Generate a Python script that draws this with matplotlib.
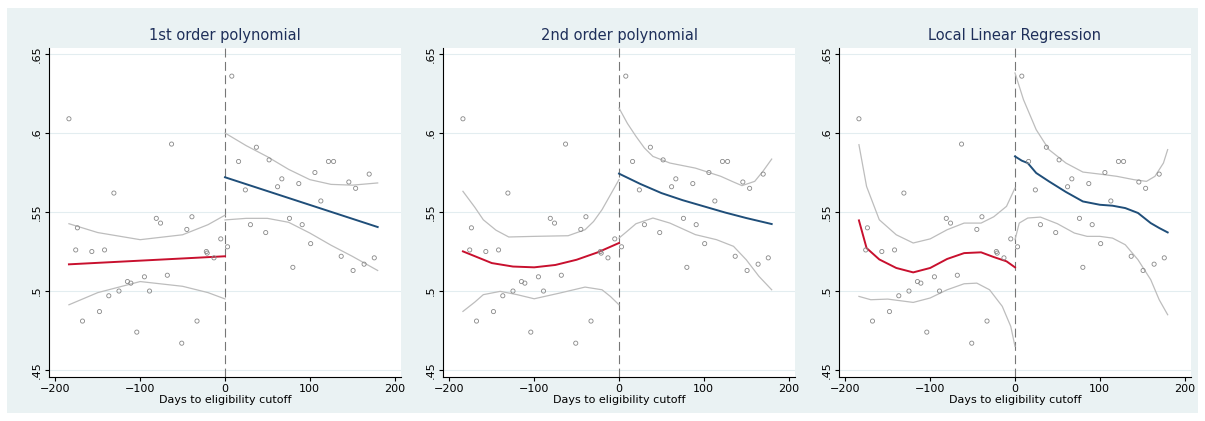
import matplotlib.pyplot as plt
from matplotlib.patches import Rectangle

# binned means: days to cutoff and outcome
days = [-184, -176, -174, -168, -157, -148, -142, -137, -131, -125, -115, -111, -104, -95,
        -89, -81, -76, -68, -63, -51, -45, -39, -33, -22, -21, -13, -5,
        3, 8, 16, 24, 30, 37, 48, 52, 62, 67, 76, 80, 87, 91, 101, 106, 113, 122, 128,
        137, 146, 151, 154, 164, 170, 176]
share = [.609, .526, .540, .481, .525, .487, .526, .497, .562, .500, .506, .505, .474, .509,
         .500, .546, .543, .510, .593, .467, .539, .547, .481, .525, .524, .521, .533,
         .528, .636, .582, .564, .542, .591, .537, .583, .566, .571, .546, .515, .568, .542,
         .530, .575, .557, .582, .582, .522, .569, .513, .565, .517, .574, .521]

titles = ["1st order polynomial", "2nd order polynomial", "Local Linear Regression"]

# fitted curves: (x, y) pairs
p1_fit_l = ([-184, 0], [.5169, .522])
p1_fit_r = ([0, 180], [.572, .5405])
p1_hi_l = ([-184, -150, -100, -50, -20, 0], [.5426, .537, .5325, .5356, .542, .548])
p1_lo_l = ([-184, -150, -100, -50, -20, 0], [.4913, .499, .506, .503, .499, .495])
p1_hi_r = ([0, 25, 50, 75, 100, 125, 150, 180], [.600, .592, .585, .577, .5705, .5675, .567, .5684])
p1_lo_r = ([0, 25, 50, 75, 100, 125, 150, 180], [.545, .546, .546, .5435, .5367, .529, .522, .513])

p2_fit_l = ([-184, -150, -125, -100, -75, -50, -25, 0], [.5251, .5177, .5155, .515, .5165, .5198, .5245, .5304])
p2_fit_r = ([0, 25, 50, 75, 100, 125, 150, 180], [.5743, .5678, .562, .5575, .5536, .5497, .5462, .5424])
p2_hi_l = ([-184, -170, -160, -145, -130, -100, -60, -40, -30, -20, -10, 0],
           [.5631, .553, .5451, .5385, .5342, .5346, .535, .5388, .544, .5515, .561, .5705])
p2_lo_l = ([-184, -170, -160, -140, -120, -100, -70, -40, -20, -10, 0],
           [.4871, .493, .4977, .4998, .4977, .4951, .4987, .5025, .5008, .4965, .4913])
p2_hi_r = ([0, 10, 20, 30, 40, 60, 90, 120, 135, 145, 160, 170, 180],
           [.6158, .606, .5979, .5905, .5852, .581, .5778, .5726, .569, .5667, .5694, .576, .5835])
p2_lo_r = ([0, 10, 20, 40, 60, 90, 115, 135, 150, 165, 180],
           [.5335, .538, .5426, .5462, .543, .5357, .5325, .5283, .5198, .5093, .5008])

p3_fit_l = ([-184, -175, -160, -140, -120, -100, -80, -60, -40, -25, -10, 0],
            [.5447, .5272, .520, .5146, .5118, .5146, .5203, .524, .5245, .5215, .5188, .515])
p3_fit_r = ([0, 8, 15, 25, 40, 60, 80, 100, 115, 130, 145, 160, 170, 180],
            [.5852, .5825, .581, .5747, .5694, .5627, .5567, .5546, .554, .5525, .5494, .543, .5399, .5371])
p3_hi_l = ([-184, -175, -160, -140, -120, -100, -80, -60, -40, -25, -10, 0],
           [.5926, .5662, .5451, .5356, .5304, .533, .5388, .543, .543, .547, .5536, .5652])
p3_lo_l = ([-184, -170, -150, -130, -120, -100, -80, -60, -45, -30, -15, -5, 0],
           [.4966, .4945, .4949, .4935, .4928, .4956, .5008, .5046, .505, .5008, .4903, .4776, .465])
p3_hi_r = ([0, 10, 25, 40, 60, 80, 100, 120, 140, 155, 165, 175, 180],
           [.638, .6211, .6021, .5895, .581, .5753, .574, .5726, .5705, .5694, .5726, .581, .5895])
p3_lo_r = ([0, 5, 15, 30, 50, 70, 85, 100, 115, 130, 145, 160, 170, 180],
           [.5325, .543, .5462, .5468, .5426, .5367, .5346, .5346, .5335, .5293, .5198, .5072, .4945, .485])

panels = [
    (p1_fit_l, p1_fit_r, [p1_hi_l, p1_lo_l, p1_hi_r, p1_lo_r]),
    (p2_fit_l, p2_fit_r, [p2_hi_l, p2_lo_l, p2_hi_r, p2_lo_r]),
    (p3_fit_l, p3_fit_r, [p3_hi_l, p3_lo_l, p3_hi_r, p3_lo_r]),
]

fig = plt.figure(figsize=(12.05, 4.21), dpi=100)
fig.patch.set_facecolor("white")
fig.patches.append(Rectangle((7 / 1205, 8 / 421), 1191 / 1205, 405 / 421,
                             transform=fig.transFigure, facecolor="#eaf2f3",
                             edgecolor="none", zorder=-1))

lefts = [49, 443, 839]
for title, lpx, (fit_l, fit_r, bands) in zip(titles, lefts, panels):
    ax = fig.add_axes([lpx / 1205, 44 / 421, 352 / 1205, 329 / 421])
    ax.set_xlim(-207.5, 207.5)
    ax.set_ylim(0.4456, 0.6538)
    ax.set_yticks([.45, .5, .55, .6, .65])
    ax.set_yticklabels([".45", ".5", ".55", ".6", ".65"], rotation=90, va="center")
    ax.set_xticks([-200, -100, 0, 100, 200])
    ax.tick_params(labelsize=8, length=3, pad=2)
    for s in ("top", "right"):
        ax.spines[s].set_visible(False)
    ax.grid(axis="y", color="#e3edf0", lw=0.8)
    ax.set_axisbelow(True)
    ax.set_title(title, color="#1e2f5a", fontsize=10.5, pad=6)
    ax.set_xlabel("Days to eligibility cutoff", fontsize=8, labelpad=1)
    ax.axvline(0, color="#777777", lw=0.8, ls=(0, (8, 4)))
    ax.scatter(days, share, s=9, facecolors="none", edgecolors="#888888", linewidths=0.6, zorder=3)
    for bx, by in bands:
        ax.plot(bx, by, color="#bdbdbd", lw=0.9)
    ax.plot(*fit_l, color="#c8102e", lw=1.4)
    ax.plot(*fit_r, color="#1f4e79", lw=1.4)

fig.savefig("out.png", dpi=100)
